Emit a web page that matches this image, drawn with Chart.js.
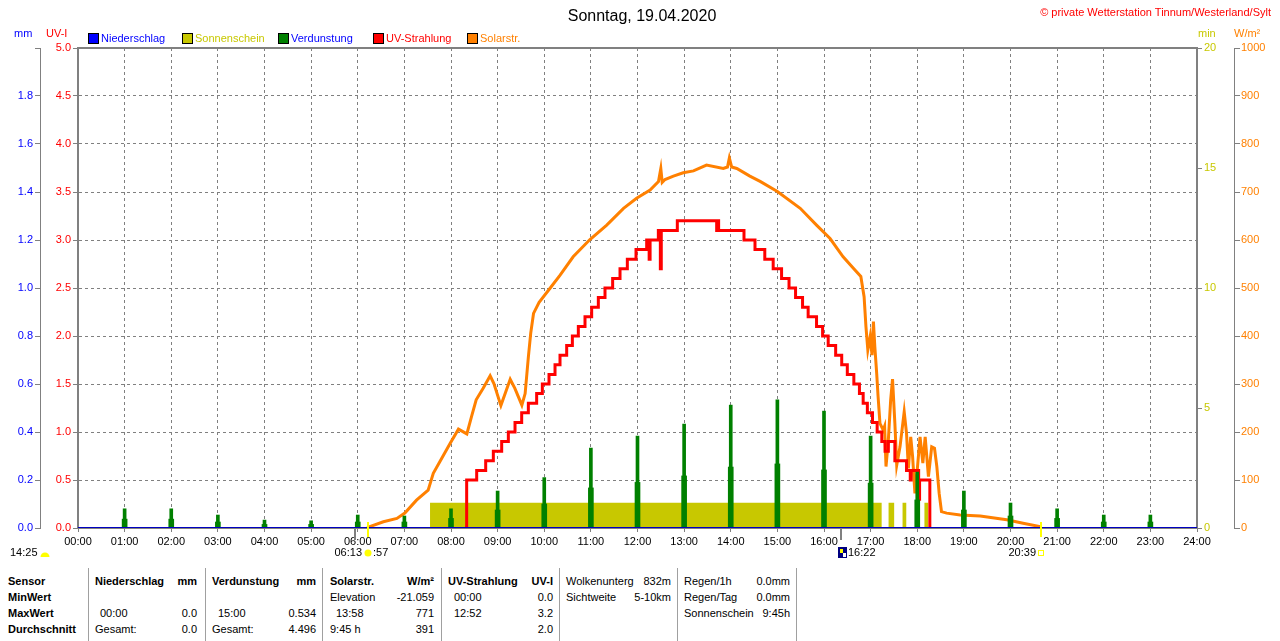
<!DOCTYPE html>
<html lang="de">
<head>
<meta charset="utf-8">
<title>Sonntag, 19.04.2020</title>
<script src="https://cdn.jsdelivr.net/npm/chart.js@4.4.1/dist/chart.umd.min.js"></script>
<style>
  body { margin: 0; background: #fff; font-family: "Liberation Sans", Arial, sans-serif; }
  #wrap { position: relative; width: 1280px; height: 641px; overflow: hidden; }
  #chart { position: absolute; left: 0; top: 0; }
  .t { position: absolute; white-space: nowrap; font-size: 11px; line-height: 14px; }
  .b { font-weight: bold; }
  .box { position: absolute; width: 9px; height: 9px; border: 1px solid #000; top: 33px; }
  .sep { position: absolute; top: 568px; width: 1px; height: 73px; background: #a0a0a0; }
</style>
</head>
<body>
<div id="wrap">
  <canvas id="chart" width="1280" height="562"></canvas>

  <div class="t" style="left:0;width:1284px;text-align:center;top:7px;font-size:16px;line-height:18px;">Sonntag, 19.04.2020</div>
  <div class="t" style="right:9px;top:5px;color:#ff0000;">© private Wetterstation Tinnum/Westerland/Sylt</div>

  <div class="t" style="left:14px;top:26px;color:#0000ff;">mm</div>
  <div class="t" style="left:46px;top:26px;color:#ff0000;">UV-I</div>
  <div class="t" style="left:1198px;top:26px;color:#c8c800;">min</div>
  <div class="t" style="left:1234px;top:26px;color:#ff8000;">W/m²</div>

  <div id="legende"></div>
  <div id="tabelle"></div>
</div>

<script>
/* Zeitachse in Stunden (0 - 24) */
const stunden = [0, 24];

/* Niederschlag (mm) - den ganzen Tag 0 */
const niederschlagZeit = [0, 24];
const niederschlagWert = [0, 0];

/* Verdunstung (mm) je Stunde: Spitze und breiterer Sockel */
const verdunstungZeit = [1, 2, 3, 4, 5, 6, 7, 8, 9, 10, 11, 12, 13, 14, 15, 16, 17, 18, 19, 20, 21, 22, 23];
const verdunstungSpitze = [0.08, 0.08, 0.054, 0.033, 0.03, 0.054, 0.05, 0.08, 0.154, 0.21, 0.333, 0.383,
  0.433, 0.512, 0.534, 0.487, 0.383, 0.233, 0.154, 0.104, 0.08, 0.054, 0.054];
const verdunstungSockel = [0.037, 0.037, 0.025, 0.015, 0.015, 0.025, 0.025, 0.04, 0.075, 0.1, 0.167, 0.19,
  0.217, 0.254, 0.267, 0.242, 0.187, 0.117, 0.075, 0.05, 0.04, 0.025, 0.025];

/* Sonnenschein (min) - Zeitraeume mit Sonne */
const sonnenscheinVon = [7.55, 17.38, 17.68, 18.15];
const sonnenscheinBis = [17.24, 17.51, 17.77, 18.24];
const sonnenscheinMin = 1.05;

/* UV-Strahlung (UV-I), Wert gilt ab dem Zeitpunkt */
const uvZeit = [8.30, 8.336, 8.551, 8.744, 8.908, 9.087, 9.230, 9.373, 9.516, 9.659, 9.837, 9.959, 10.102,
  10.231, 10.338, 10.481, 10.603, 10.731, 10.874, 11.017, 11.160, 11.303, 11.467, 11.625, 11.782, 11.968,
  12.197, 12.25, 12.27, 12.447, 12.49, 12.51, 12.854, 13.698, 13.72, 13.74, 13.769, 14.284, 14.52, 14.73,
  14.91, 15.09, 15.25, 15.39, 15.54, 15.66, 15.84, 15.97, 16.09, 16.25, 16.38, 16.50, 16.64, 16.76, 16.84,
  16.93, 17.04, 17.14, 17.24, 17.31, 17.38, 17.52, 17.77, 17.85, 17.87, 18.03, 18.05, 18.27, 18.28];
const uvWert = [0, 0.5, 0.6, 0.7, 0.8, 0.9, 1.0, 1.1, 1.2, 1.3, 1.4, 1.5, 1.6,
  1.7, 1.8, 1.9, 2.0, 2.1, 2.2, 2.3, 2.4, 2.5, 2.6, 2.7, 2.8, 2.9,
  3.0, 2.8, 3.0, 3.1, 2.7, 3.1, 3.2, 3.1, 3.2, 3.1, 3.1, 3.0, 2.9, 2.8,
  2.7, 2.6, 2.5, 2.4, 2.3, 2.2, 2.1, 2.0, 1.9, 1.8, 1.7, 1.6, 1.5, 1.4, 1.3,
  1.2, 1.1, 1.0, 0.9, 0.8, 0.9, 0.7, 0.6, 0.5, 0.6, 0.3, 0.5, 0, 0];

/* Solarstrahlung (W/m²) */
const solarZeit = [6.20, 6.26, 6.55, 6.84, 7.01, 7.26, 7.51, 7.62, 7.76, 7.98, 8.16, 8.34, 8.44, 8.54, 8.69,
  8.84, 8.92, 9.07, 9.27, 9.37, 9.52, 9.59, 9.66, 9.71, 9.77, 9.89, 10.12, 10.34, 10.62, 10.98, 11.34,
  11.70, 11.98, 12.27, 12.45, 12.50, 12.53, 12.59, 12.77, 12.98, 13.20, 13.48, 13.84, 13.93, 13.97, 14.02,
  14.13, 14.41, 14.63, 15.00, 15.49, 15.84, 16.13, 16.41, 16.63, 16.79, 16.86, 16.90, 16.94, 16.99, 17.03,
  17.06, 17.09, 17.13, 17.16, 17.20, 17.27, 17.30, 17.33, 17.38, 17.43, 17.47, 17.52, 17.56, 17.63, 17.72,
  17.77, 17.81, 17.86, 17.90, 17.95, 18.00, 18.06, 18.12, 18.17, 18.24, 18.31, 18.37, 18.42, 18.47, 18.52,
  18.63, 18.92, 19.35, 19.92, 20.27, 20.63, 20.65];
const solarWert = [0, 3, 13, 20, 31, 58, 79, 114, 138, 176, 206, 196, 232, 267, 291,
  317, 301, 255, 310, 291, 256, 280, 357, 406, 447, 470, 499, 527, 565, 601, 631,
  666, 687, 704, 722, 749, 720, 726, 733, 740, 744, 756, 749, 752, 771, 752,
  749, 733, 722, 701, 666, 631, 603, 565, 541, 524, 482, 419, 371, 399, 360,
  430, 378, 322, 274, 218, 204, 212, 128, 183, 267, 310, 218, 131, 169, 242,
  197, 124, 190, 149, 72, 121, 190, 135, 190, 107, 169, 166, 128, 72, 34,
  31, 27, 25, 17, 10, 3, 0];

/* Sonne / Mond unter der Zeitachse */
const sonnenaufgang = 6.217;
const sonnenuntergang = 20.65;
const mondZeiten = [5.95, 16.367];

const punkte = (xs, ys) => xs.map((x, i) => ({ x: x, y: ys[i] }));

const sonnePunkte = [];
sonnenscheinVon.forEach((von, i) => {
  if (i > 0) sonnePunkte.push({ x: (sonnenscheinBis[i - 1] + von) / 2, y: null });
  sonnePunkte.push({ x: von, y: sonnenscheinMin }, { x: sonnenscheinBis[i], y: sonnenscheinMin });
});

/* Rahmen, Markierungen und Texte unter der Achse */
const zusatz = {
  id: "zusatz",
  afterDraw(chart) {
    const { ctx, chartArea: a, scales: { x } } = chart;
    ctx.save();
    ctx.strokeStyle = "#808080";
    ctx.lineWidth = 2;
    ctx.beginPath();
    ctx.moveTo(a.left - 1, a.top);
    ctx.lineTo(a.right + 1, a.top);
    ctx.stroke();

    mondZeiten.forEach((t) => {
      const px = Math.round(x.getPixelForValue(t));
      ctx.beginPath();
      ctx.moveTo(px, a.bottom);
      ctx.lineTo(px, a.bottom + 12);
      ctx.stroke();
    });

    const auf = Math.round(x.getPixelForValue(sonnenaufgang));
    const unter = Math.round(x.getPixelForValue(sonnenuntergang));
    ctx.strokeStyle = "#ffff00";
    [auf, unter].forEach((px) => {
      ctx.beginPath();
      ctx.moveTo(px, a.bottom - 6);
      ctx.lineTo(px, a.bottom + 9);
      ctx.stroke();
    });

    const yText = 553;
    ctx.font = '11px "Liberation Sans", Arial, sans-serif';
    ctx.fillStyle = "#000";
    ctx.textBaseline = "middle";
    ctx.textAlign = "left";
    ctx.fillText("14:25", 10, yText);

    // Tageslaenge - halbe Sonne
    ctx.fillStyle = "#ffff00";
    ctx.beginPath();
    ctx.arc(45, 557, 4.5, Math.PI, 0);
    ctx.fill();

    // Sonnenaufgang
    ctx.fillStyle = "#000";
    ctx.textAlign = "right";
    ctx.fillText("06:13", auf - 6, yText);
    ctx.textAlign = "left";
    ctx.fillText(":57", auf + 5, yText);
    ctx.fillStyle = "#ffff00";
    ctx.beginPath();
    ctx.arc(auf, yText, 3.5, 0, Math.PI * 2);
    ctx.fill();

    // Mond
    const mond = Math.round(x.getPixelForValue(mondZeiten[1]));
    ctx.fillStyle = "#000080";
    ctx.fillRect(mond - 3, 547, 9, 11);
    ctx.fillStyle = "#ffff00";
    ctx.fillRect(mond - 1, 549, 3, 4);
    ctx.fillStyle = "#ffffff";
    ctx.fillRect(mond + 2, 553, 3, 4);
    ctx.fillStyle = "#000";
    ctx.fillText("16:22", mond + 7, yText);

    // Sonnenuntergang
    ctx.textAlign = "right";
    ctx.fillText("20:39", unter - 5, yText);
    ctx.strokeStyle = "#ffff00";
    ctx.lineWidth = 1;
    ctx.strokeRect(unter - 2.5, 550.5, 5, 5);
    ctx.restore();
  },
};

Chart.defaults.font.family = '"Liberation Sans", Arial, sans-serif';
Chart.defaults.font.size = 11;
Chart.defaults.color = "#000";

const canvas = document.getElementById("chart");
const context = canvas.getContext("2d");

const chartWetter = new Chart(context, {
  type: "line",
  data: {
    datasets: [
      {
        label: "Niederschlag",
        data: punkte(niederschlagZeit, niederschlagWert),
        yAxisID: "mm",
        borderColor: "#0000c0",
        borderWidth: 2,
        order: 0,
      },
      {
        type: "bar",
        label: "Verdunstung",
        data: punkte(verdunstungZeit, verdunstungSpitze),
        yAxisID: "mm",
        backgroundColor: "#008000",
        barThickness: 3,
        grouped: false,
        order: 1,
      },
      {
        type: "bar",
        label: "Verdunstung Sockel",
        data: punkte(verdunstungZeit, verdunstungSockel),
        yAxisID: "mm",
        backgroundColor: "#008000",
        barThickness: 5,
        grouped: false,
        order: 1,
      },
      {
        label: "UV-Strahlung",
        data: punkte(uvZeit, uvWert),
        yAxisID: "uv",
        borderColor: "#ff0000",
        borderWidth: 3,
        stepped: true,
        order: 2,
      },
      {
        label: "Solarstr.",
        data: punkte(solarZeit, solarWert),
        yAxisID: "w",
        borderColor: "#ff8000",
        borderWidth: 3,
        order: 3,
      },
      {
        label: "Sonnenschein",
        data: sonnePunkte,
        yAxisID: "min",
        borderWidth: 0,
        borderColor: "rgba(0,0,0,0)",
        backgroundColor: "#c8c800",
        fill: "origin",
        spanGaps: false,
        order: 4,
      },
    ],
  },
  options: {
    responsive: false,
    animation: false,
    layout: { padding: { top: 48, bottom: 14, left: 0, right: 0 } },
    elements: { point: { radius: 0 }, line: { tension: 0 } },
    plugins: {
      legend: { display: false },
      tooltip: { enabled: false },
      title: { display: false },
    },
    scales: {
      x: {
        type: "linear",
        position: "bottom",
        min: stunden[0],
        max: stunden[1],
        offset: false,
        ticks: {
          stepSize: 1,
          maxTicksLimit: 30,
          autoSkip: false,
          maxRotation: 0,
          padding: 3,
          color: "#000",
          callback: (v) => String(v).padStart(2, "0") + ":00",
        },
        grid: { color: "#808080", tickLength: 4, tickColor: "#808080", offset: false },
        border: { color: "#808080", width: 1, dash: [3, 3] },
        afterFit: (s) => { s.height = 20; },
      },
      mm: {
        position: "left",
        weight: 2,
        min: 0,
        max: 2,
        ticks: {
          stepSize: 0.2,
          color: "#0000ff",
          padding: 2,
          callback: (v) => (v >= 1.99 ? "" : v.toFixed(1)),
        },
        grid: { drawOnChartArea: false, tickLength: 5, color: "#808080" },
        border: { color: "#808080", width: 1 },
        afterFit: (s) => { s.width = 40; },
      },
      uv: {
        position: "left",
        weight: 1,
        min: 0,
        max: 5,
        ticks: { stepSize: 0.5, color: "#ff0000", padding: 2, callback: (v) => v.toFixed(1) },
        grid: { color: "#808080", tickLength: 5, tickColor: "#808080" },
        border: { color: "#808080", width: 2, dash: [3, 3] },
        afterFit: (s) => { s.width = 38; },
      },
      min: {
        position: "right",
        weight: 1,
        min: 0,
        max: 20,
        ticks: { stepSize: 5, color: "#c8c800", padding: 2, callback: (v) => String(v) },
        grid: { drawOnChartArea: false, tickLength: 5, color: "#808080" },
        border: { color: "#808080", width: 2 },
        afterFit: (s) => { s.width = 37; },
      },
      w: {
        position: "right",
        weight: 2,
        min: 0,
        max: 1000,
        ticks: { stepSize: 100, color: "#ff8000", padding: 1, callback: (v) => String(v) },
        grid: { drawOnChartArea: false, tickLength: 6, color: "#808080" },
        border: { color: "#808080", width: 1 },
        afterFit: (s) => { s.width = 46; },
      },
    },
  },
  plugins: [zusatz],
});

/* Legende oben */
const legendeEintraege = [
  ["Niederschlag", 88, "#0000ff", "#0000ff"],
  ["Sonnenschein", 182, "#c8c800", "#c8c800"],
  ["Verdunstung", 278, "#008000", "#0000ff"],
  ["UV-Strahlung", 373, "#ff0000", "#ff0000"],
  ["Solarstr.", 467, "#ff8000", "#ff8000"],
];
let htmlLegende = "";
legendeEintraege.forEach(([text, x, farbe, textFarbe]) => {
  htmlLegende += `<div class="box" style="left:${x}px;background:${farbe};"></div>`;
  htmlLegende += `<div class="t" style="left:${x + 13}px;top:31px;color:${textFarbe};">${text}</div>`;
});
document.getElementById("legende").innerHTML = htmlLegende;

/* Tabelle unten: [Text, x, Zeile, Ausrichtung, fett] */
const zeilenTop = [574, 590, 606, 622];
const trennlinien = [88, 205, 322, 441, 559, 677, 796];
const tabellenText = [
  ["Sensor", 8, 0, "l", 1], ["MinWert", 8, 1, "l", 1], ["MaxWert", 8, 2, "l", 1], ["Durchschnitt", 8, 3, "l", 1],
  ["Niederschlag", 95, 0, "l", 1], ["mm", 197, 0, "r", 1], ["00:00", 100, 2, "l"], ["0.0", 197, 2, "r"],
  ["Gesamt:", 95, 3, "l"], ["0.0", 197, 3, "r"],
  ["Verdunstung", 212, 0, "l", 1], ["mm", 316, 0, "r", 1], ["15:00", 218, 2, "l"], ["0.534", 316, 2, "r"],
  ["Gesamt:", 212, 3, "l"], ["4.496", 316, 3, "r"],
  ["Solarstr.", 330, 0, "l", 1], ["W/m²", 434, 0, "r", 1], ["Elevation", 330, 1, "l"], ["-21.059", 434, 1, "r"],
  ["13:58", 336, 2, "l"], ["771", 434, 2, "r"], ["9:45 h", 330, 3, "l"], ["391", 434, 3, "r"],
  ["UV-Strahlung", 448, 0, "l", 1], ["UV-I", 553, 0, "r", 1], ["00:00", 454, 1, "l"], ["0.0", 553, 1, "r"],
  ["12:52", 454, 2, "l"], ["3.2", 553, 2, "r"], ["2.0", 553, 3, "r"],
  ["Wolkenunterg", 566, 0, "l"], ["832m", 671, 0, "r"], ["Sichtweite", 566, 1, "l"], ["5-10km", 671, 1, "r"],
  ["Regen/1h", 684, 0, "l"], ["0.0mm", 790, 0, "r"], ["Regen/Tag", 684, 1, "l"], ["0.0mm", 790, 1, "r"],
  ["Sonnenschein", 684, 2, "l"], ["9:45h", 790, 2, "r"],
];
let htmlTabelle = "";
trennlinien.forEach((x) => {
  htmlTabelle += `<div class="sep" style="left:${x}px;"></div>`;
});
tabellenText.forEach(([text, x, zeile, ausr, fett]) => {
  const pos = ausr === "l" ? `left:${x}px;` : `right:${1280 - x}px;`;
  htmlTabelle += `<div class="t${fett ? " b" : ""}" style="${pos}top:${zeilenTop[zeile]}px;">${text}</div>`;
});
document.getElementById("tabelle").innerHTML = htmlTabelle;
</script>
</body>
</html>
